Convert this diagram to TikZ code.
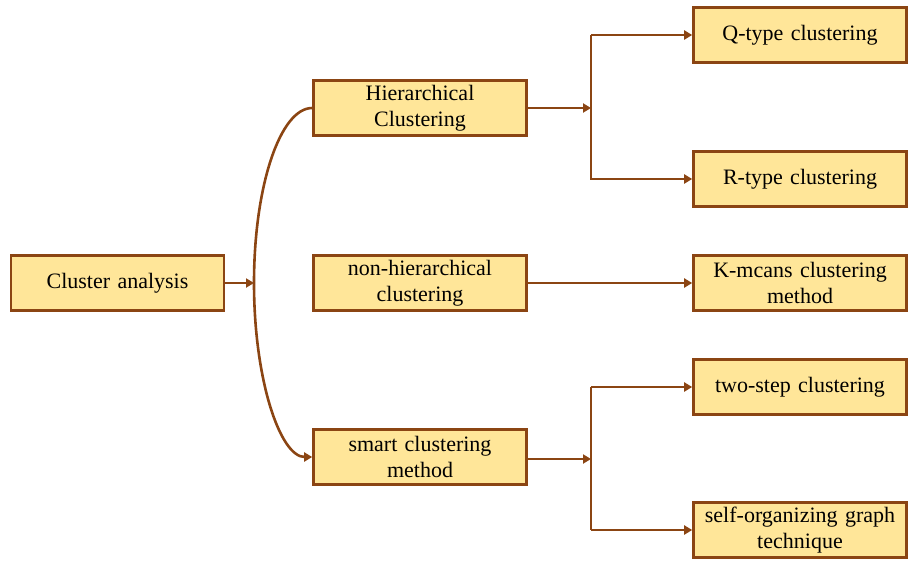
\documentclass[tikz,border=0pt]{standalone}
\usepackage{fontspec}
\setmainfont{Liberation Serif}
\usetikzlibrary{arrows.meta}
\definecolor{edge}{HTML}{8B4513}
\definecolor{boxfill}{HTML}{FFE699}
\tikzset{
  box/.style={draw=edge, fill=boxfill, line width=2.6pt, minimum width=213pt, minimum height=55pt,
    inner sep=0pt, text width=211pt, align=center, font=\fontsize{22}{26.5}\selectfont},
  conn/.style={draw=edge, line width=2.6pt, -{Triangle[length=8pt,width=9pt]}},
  plain/.style={draw=edge, line width=2.6pt}
}
\begin{document}
\begin{tikzpicture}[x=1pt,y=-1pt]
\useasboundingbox (0,0) rectangle (908,560);
\node[box] (cluster) at (117.5,283) {Cluster analysis};
\node[box] (hier) at (420,108) {Hierarchical\\Clustering};
\node[box] (nonh) at (420,283) {non-hierarchical\\clustering};
\node[box] (smart) at (420,457) {smart clustering\\method};
\node[box] (q) at (800,35) {Q-type clustering};
\node[box] (r) at (800,179) {R-type clustering};
\node[box] (k) at (800,283) {K-mcans clustering\\method};
\node[box] (two) at (800,387) {two-step clustering};
\node[box] (som) at (800,530) {self-organizing graph\\technique};
\coordinate (bend) at (254,283);
\coordinate (hj) at (591,108);
\coordinate (sj) at (591,459);
% left curve
\draw[conn] (cluster.east) -- (bend);
\draw[conn] (hier.west) to[out=180,in=90,out distance=32pt,in distance=97pt] (bend)
  to[out=-90,in=180,out distance=97pt,in distance=32pt] (smart.west);
% hierarchical branch
\draw[conn] (hier.east) -- (hj);
\draw[conn] (hj |- q.west) -- (hj |- r.west) -- (r.west);
\draw[conn] (hj |- q.west) -- (q.west);
% non-hierarchical
\draw[conn] (nonh.east) -- (k.west);
% smart branch
\draw[conn] (smart.east |- sj) -- (sj);
\draw[plain] (sj |- two.west) -- (sj |- som.west);
\draw[conn] (sj |- two.west) -- (two.west);
\draw[conn] (sj |- som.west) -- (som.west);
\end{tikzpicture}
\end{document}
